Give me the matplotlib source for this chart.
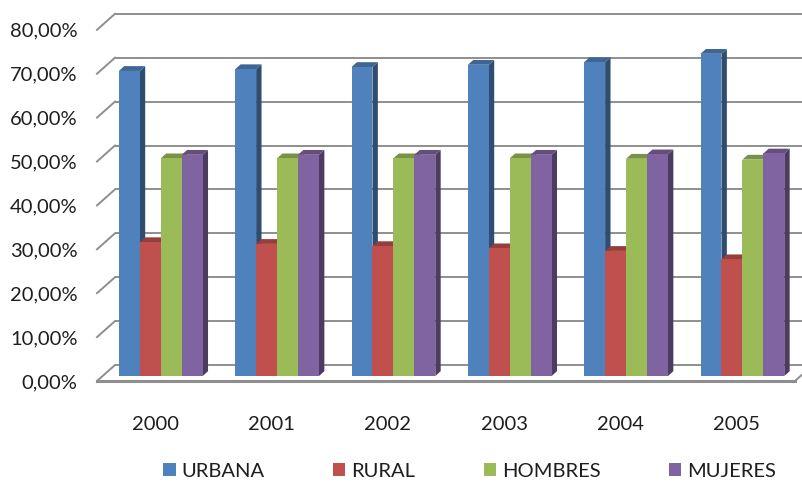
import numpy as np
import matplotlib
matplotlib.use("Agg")
import matplotlib.pyplot as plt
from matplotlib.patches import Polygon, Patch
from matplotlib.colors import to_rgb

plt.rcParams['font.family'] = ['Lato', 'DejaVu Sans']

# ===== data =====
years = ["2000", "2001", "2002", "2003", "2004", "2005"]
series = ["URBANA", "RURAL", "HOMBRES", "MUJERES"]
urbana = [69.5, 69.9, 70.4, 70.9, 71.5, 73.4]
rural = [30.5, 30.1, 29.6, 29.1, 28.5, 26.6]
hombres = [49.6, 49.6, 49.6, 49.6, 49.5, 49.3]
mujeres = [50.4, 50.4, 50.4, 50.4, 50.5, 50.7]
colors = ["#4F81BD", "#C0504D", "#9BBB59", "#8064A2"]
yticks = [0, 10, 20, 30, 40, 50, 60, 70, 80]

values = [urbana, rural, hombres, mujeres]

# ===== fake 3D geometry =====
W, H = 803, 482
cat_px = 116.33          # pixels per category
y_px = 4.39              # pixels per percent
dx = 18 / cat_px         # depth offset in category units
dy = 16 / y_px           # depth offset in percent units
f0 = 0.31                # bars start this far into the depth
fb = 0.30                # bar depth
bar_w = 0.18
ymax = 80

fig = plt.figure(figsize=(W / 100, H / 100), dpi=100)
left_px, bottom_px = 97, 101
ax = fig.add_axes([left_px / W, bottom_px / H,
                   (6 + dx) * cat_px / W, (ymax + dy) * y_px / H])
ax.set_xlim(-0.5, 5.5 + dx)
ax.set_ylim(0, ymax + dy)
for s in ax.spines.values():
    s.set_visible(False)
ax.patch.set_alpha(0)

grid_c = "#8E8E8E"
x_l, x_r = -0.5, 5.5
# walls: back gridlines + left wall diagonals
for v in yticks:
    ax.plot([x_l + dx, x_r + dx], [v + dy, v + dy], color=grid_c, lw=1.4, zorder=1,
            clip_on=False, solid_capstyle="butt")
    ax.plot([x_l, x_l + dx], [v, v + dy], color=grid_c, lw=1.4, zorder=1, clip_on=False)
# floor
ax.plot([x_l, x_r], [0, 0], color=grid_c, lw=2.2, zorder=1, clip_on=False)
ax.plot([x_r, x_r + dx], [0, dy], color=grid_c, lw=1.4, zorder=1, clip_on=False)


def shade(c, k):
    r, g, b = to_rgb(c)
    return (r * k, g * k, b * k)


z = 2
for i in range(len(years)):
    for j, vals in enumerate(values):
        v = vals[i]
        x0 = i - 2 * bar_w + j * bar_w + f0 * dx
        y0 = f0 * dy
        x1 = x0 + bar_w
        y1 = y0 + v
        ox, oy = fb * dx, fb * dy
        c = colors[j]
        front = Polygon([(x0, y0), (x1, y0), (x1, y1), (x0, y1)], closed=True,
                        facecolor=c, edgecolor="none", zorder=z)
        side = Polygon([(x1, y0), (x1 + ox, y0 + oy), (x1 + ox, y1 + oy), (x1, y1)],
                       closed=True, facecolor=shade(c, 0.6), edgecolor="none", zorder=z)
        top = Polygon([(x0, y1), (x1, y1), (x1 + ox, y1 + oy), (x0 + ox, y1 + oy)],
                      closed=True, facecolor=shade(c, 0.78), edgecolor="none", zorder=z)
        ax.add_patch(side)
        ax.add_patch(top)
        ax.add_patch(front)
        z += 1

text_c = "#1E1E1E"
fs = 14.5
ax.set_yticks(yticks)
ax.set_yticklabels([f"{t:.2f}".replace(".", ",") + "%" for t in yticks],
                   fontsize=fs, color=text_c)
ax.set_xticks(range(len(years)))
ax.set_xticklabels(years, fontsize=fs, color=text_c)
ax.tick_params(axis="y", length=0, pad=14)
ax.tick_params(axis="x", length=0, pad=25)

handles = [Patch(facecolor=c, edgecolor="none") for c in colors]
fig.legend(handles, series, loc="center", bbox_to_anchor=(0.585, 0.022), ncol=4,
           frameon=False, fontsize=fs, handlelength=0.6, handleheight=0.6,
           handletextpad=0.3, columnspacing=3.4, labelcolor=text_c)

fig.savefig("out.png", dpi=100, facecolor="white")
